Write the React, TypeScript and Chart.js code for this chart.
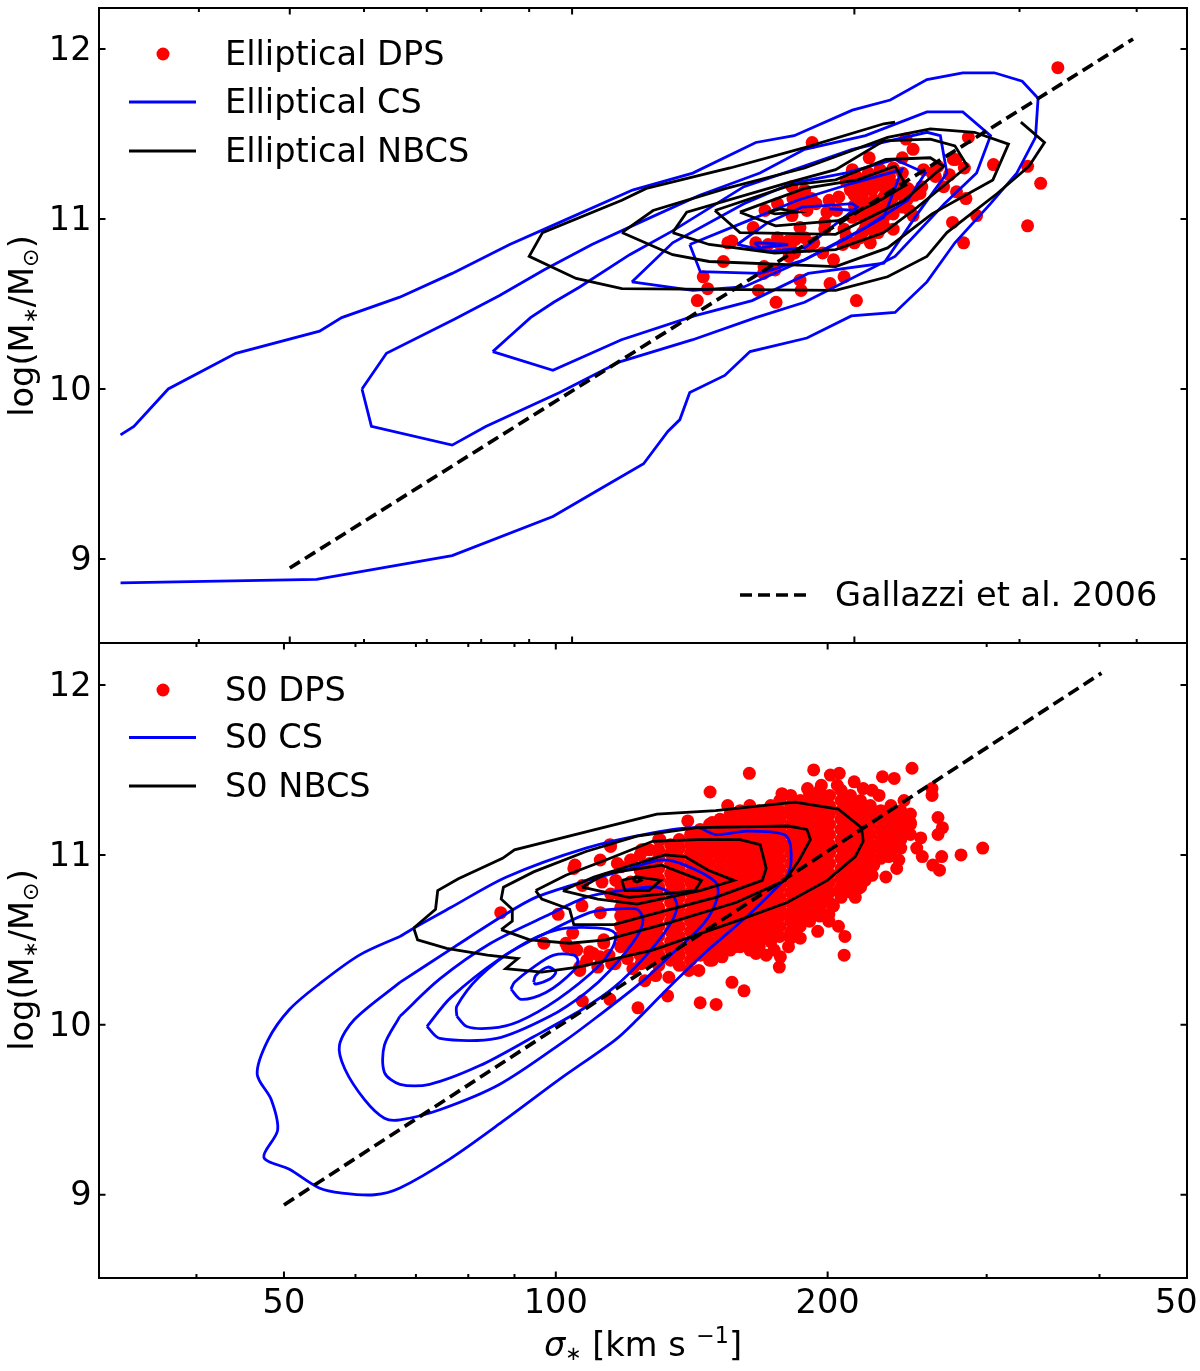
import React, { useEffect, useRef } from "react";
import { Chart, registerables } from "chart.js";

Chart.register(...registerables);

type P = [number, number];

// ---------- shared axis values ----------
const xMajorTicks = [50, 100, 200, 500];
const xMinorTicks = [40, 60, 70, 80, 90, 300, 400];
const yTicks = [9, 10, 11, 12];

const galTopLine: P[] = [[50, 8.947], [396.5, 12.059]];
const galBottomLine: P[] = [[50, 8.94], [402, 12.07]];

// ---------- top panel: Elliptical ----------
const ellipticalDps: P[] = [
  [329.6, 11.89], [180.3, 11.45], [227, 11.47], [264.6, 11.48], [231, 11.41], [207.4, 11.36], [225, 11.36], [256.6, 11.35],
  [262, 11.30], [281.4, 11.32], [306, 11.31], [316, 11.21], [306, 10.96], [261.5, 10.86], [270, 11.02], [254.5, 10.98],
  [263, 11.12], [257, 11.16], [249, 11.19], [252.6, 11.26], [244, 11.25], [237, 11.29], [231, 11.02], [229, 11.05],
  [220, 10.94], [212.6, 11.0], [194.4, 10.85], [203, 10.89], [190, 10.76], [185, 10.8], [195, 10.66], [188.4, 10.62],
  [201, 10.52], [175, 10.64], [175.5, 10.58], [165, 10.51], [158, 10.58], [164.6, 10.70], [160.2, 10.72], [160, 10.68],
  [145, 10.75], [138, 10.66], [139.5, 10.59], [136, 10.52], [146.6, 10.86], [148, 10.87], [170.4, 10.78], [172.7, 10.80],
  [157, 10.86], [156, 10.95], [160.6, 11.05], [165.6, 11.09], [171.6, 11.02], [171.6, 11.19], [177, 11.17], [165.6, 10.89],
  [170, 10.87], [161.8, 10.85], [171, 10.85], [175, 10.95], [177, 10.89], [181, 10.86], [186, 10.94], [186, 10.98],
  [188, 11.11], [192.5, 11.13], [175, 11.11], [177, 11.07], [187, 11.04], [191.5, 11.05], [195, 10.94], [205.5, 10.95],
  [207, 11.01], [204, 10.92], [198, 11.17], [201, 11.25], [207, 11.27], [213, 11.29], [218, 11.25], [215, 11.19],
  [209, 11.17], [204, 11.13], [210, 11.11], [218, 11.13], [230, 11.16], [235, 11.15], [205.5, 11.05], [213, 11.06],
  [225, 11.07], [199, 11.01], [199, 11.29], [245.5, 11.31], [255, 11.35], [242, 11.27], [214, 11.22], [222, 11.20],
  [203, 11.19], [196, 11.22], [211, 11.24], [218, 11.09],
  [200, 11.20], [200, 11.14], [200, 11.08], [200, 11.02], [205, 11.23], [205, 11.17], [205, 11.08], [205, 11.00],
  [210, 11.25], [210, 11.19], [210, 11.05], [210, 10.98], [210, 10.92], [215, 11.27], [215, 11.13], [215, 11.01],
  [215, 10.96], [220, 11.30], [220, 11.19], [220, 11.13], [220, 11.03], [225, 11.27], [225, 11.20], [225, 11.14],
  [172, 11.12], [176, 11.14], [180, 11.12], [182, 11.09], [178, 11.05], [172, 11.06], [166, 10.86], [173, 10.88],
  [179, 10.84], [170, 10.82], [196, 10.90], [200, 10.86], [208, 10.86], [212, 10.92], [228, 11.18], [232, 11.14],
  [236, 11.19], [228, 11.12],
];

const ellipticalCs1: P[] = [
  [33.0, 9.73], [34.1, 9.78], [37.1, 10.0], [43.8, 10.21], [53.8, 10.34], [56.8, 10.42], [65.5, 10.54], [74.5, 10.68],
  [85.8, 10.85], [97, 10.98], [116, 11.17], [134.5, 11.27], [157, 11.45], [172.5, 11.49], [199, 11.64], [218.4, 11.70],
  [239, 11.82], [261, 11.86], [282, 11.86], [302, 11.81], [314, 11.71], [312, 11.48], [298, 11.27], [279.4, 11.09],
  [256, 10.86], [239, 10.63], [221, 10.45], [198.5, 10.43], [178, 10.30], [154.8, 10.22], [145.5, 10.08], [133.5, 9.98],
  [130.3, 9.82], [126.5, 9.75], [119.2, 9.56], [107, 9.41], [95.4, 9.25], [74.5, 9.02], [53.4, 8.88], [33, 8.86],
];
const ellipticalCs2: P[] = [
  [59.7, 10.0], [63.4, 10.21], [74.9, 10.41], [83.7, 10.55], [93.3, 10.70], [105, 10.85], [118.1, 10.98], [136.8, 11.14],
  [158.6, 11.27], [177, 11.41], [205.5, 11.49], [239, 11.63], [261, 11.63], [279.4, 11.49], [270, 11.27], [249.5, 11.09],
  [221, 10.78], [177, 10.51], [157, 10.42], [134.5, 10.29], [112.4, 10.16], [97, 9.98], [80.9, 9.78], [74.5, 9.67],
  [61.1, 9.78], [59.7, 10.0],
];
const ellipticalCs3: P[] = [
  [82.3, 10.22], [85.4, 10.30], [90.3, 10.42], [95.6, 10.51], [101.9, 10.60], [115.2, 10.79], [128, 10.93], [152.5, 11.19],
  [172.5, 11.29], [199, 11.41], [239, 11.51], [247, 11.49], [251, 11.27], [233.5, 11.03], [215, 10.74], [178.6, 10.68],
  [155.6, 10.52], [135, 10.43], [112.9, 10.29], [95.4, 10.11], [82.3, 10.22],
];
const ellipticalCs4: P[] = [
  [115.8, 10.63], [128, 10.86], [152.5, 11.09], [171.5, 11.21], [195.5, 11.27], [221, 11.35], [238, 11.27], [228, 11.11],
  [205.5, 10.95], [177, 10.76], [152.5, 10.60], [134.5, 10.58], [115.8, 10.63],
];
const ellipticalCs5: P[] = [
  [133.5, 10.85], [137, 10.69], [158.6, 10.68], [177, 10.76], [195.5, 10.88], [215, 11.01], [224.8, 11.29], [199, 11.21],
  [174, 11.11], [152.5, 10.98], [133.5, 10.85],
];
const ellipticalCs6: P[] = [
  [150, 10.85], [161.8, 10.81], [177, 10.83], [188, 10.94], [201.5, 11.07], [199, 11.09], [176, 11.07], [161.8, 10.98], [150, 10.85],
];
const ellipticalCs7: P[] = [[156.5, 10.86], [158.6, 10.83], [170, 10.85], [158.6, 10.86], [156.5, 10.86]];
const ellipticalCs8: P[] = [[188, 11.06], [201.5, 11.05]];

const ellipticalNbcs1: P[] = [
  [221, 11.57], [215, 11.56], [177, 11.42], [147.4, 11.30], [120, 11.18], [113, 11.11], [93, 10.92], [90, 10.78],
  [101, 10.65], [113, 10.59], [191, 10.58], [217, 10.66], [239, 10.78], [251, 10.92], [284, 11.15], [307, 11.31],
  [319, 11.45], [301, 11.57],
];
const ellipticalNbcs2: P[] = [
  [113, 10.92], [122, 11.05], [146, 11.18], [177, 11.30], [217, 11.48], [241, 11.53], [268.6, 11.51], [292, 11.44],
  [281, 11.23], [242, 11.03], [217, 10.83], [191, 10.72], [140, 10.75], [128, 10.79], [113, 10.92],
];
const ellipticalNbcs3: P[] = [
  [128, 10.92], [132.5, 11.04], [171.5, 11.22], [191, 11.29], [215, 11.46], [241, 11.47], [256, 11.43], [264, 11.31],
  [233.5, 11.07], [215, 10.92], [191, 10.82], [164.5, 10.80], [140, 10.85], [128, 10.92],
];
const ellipticalNbcs4: P[] = [
  [142, 11.05], [171.5, 11.20], [191, 11.23], [216, 11.35], [241, 11.36], [249, 11.31], [226, 11.11], [191, 10.91], [151, 10.92], [142, 11.05],
];
const ellipticalNbcs5: P[] = [
  [151, 11.04], [177, 11.18], [201.5, 11.23], [221, 11.31], [227, 11.20], [210, 11.09], [192, 10.99], [164.8, 10.96], [151, 11.04],
];
const ellipticalNbcs6: P[] = [[162, 11.04], [166.6, 11.06], [173.7, 11.04], [164.6, 11.03], [162, 11.04]];

// ---------- bottom panel: S0 ----------
const s0DpsOuter: P[] = [
  [163.8, 11.48], [148.2, 11.37], [193, 11.50], [248, 11.51], [206, 11.48], [201.4, 11.47], [196.8, 11.41], [214, 11.43],
  [230, 11.46], [237, 11.45], [224, 11.38], [261, 11.39], [261, 11.35], [265, 11.22], [268, 11.16], [265, 11.12],
  [253.6, 11.10], [245.5, 11.13], [251, 11.04], [254.6, 10.99], [267.5, 10.99], [261.5, 10.94], [266, 10.91], [281, 11.0],
  [297, 11.04], [233.6, 10.99], [239.8, 10.97], [238.5, 10.92], [232, 10.87], [225, 10.94], [220, 10.85], [214.6, 10.75],
  [206, 10.79], [200.6, 10.65], [200.6, 10.61], [205.6, 10.58], [209, 10.52], [208.6, 10.41], [190.4, 10.62], [186.5, 10.51],
  [183.3, 10.54], [182, 10.51], [176.8, 10.34], [177.3, 10.40], [174.5, 10.44], [171, 10.41], [166.6, 10.42], [165.6, 10.46],
  [158, 10.46], [171.7, 10.51], [152.8, 10.40], [149, 10.38], [144, 10.32], [140.4, 10.32], [133.4, 10.28], [129, 10.29],
  [125.5, 10.26], [156.7, 10.25], [161.6, 10.20], [144.5, 10.13], [150.5, 10.12], [133, 10.17], [123.3, 10.10], [114.8, 10.15],
  [107, 10.14], [86.9, 10.66], [100.6, 10.65], [112, 10.66], [106.9, 10.70], [104.7, 10.92], [112, 10.97], [115, 11.05],
  [130, 11.09], [124.5, 11.03], [117, 10.95], [112.5, 10.84], [107, 10.82], [121, 10.97], [120.5, 10.83], [97, 10.48],
  [104.4, 10.54], [102.6, 10.48], [105, 10.45], [106.3, 10.32], [111.3, 10.34], [109, 10.43], [113, 10.50], [114.5, 10.41],
  [116.3, 10.36], [120, 10.39], [121.7, 10.33], [124.3, 10.36], [241, 11.23], [247, 11.19], [237, 11.13], [230, 11.10],
  [181, 10.46], [195, 10.55], [203, 10.70], [216, 10.80], [224, 10.88], [236, 11.05], [243, 11.32], [228, 11.35],
  [219, 11.39], [205, 11.41], [190, 11.39], [178, 11.36], [155, 11.29], [140, 11.20],
  [110, 10.42], [113, 10.48], [115.3, 10.36], [106.3, 10.34], [103, 10.46], [105.5, 10.44], [108.2, 10.38], [111.9, 10.40],
  [114.8, 11.06], [105, 10.94], [130.4, 11.09], [125, 11.03], [121.4, 10.97], [127, 11.03], [149, 11.19], [160, 11.21],
  [167, 11.25], [124, 11.0], [118, 10.93], [116.5, 10.85], [115, 10.77],
];
const s0CoreSigma = [118, 121, 124, 127, 130, 134, 137, 141, 144.5, 148, 152, 156, 160, 164, 168, 170.5, 173, 177, 182, 186.5, 191, 196, 201, 207, 212, 217.5, 223, 229, 235, 241, 247];
const s0CoreMass: number[][] = [
  [10.46, 10.52, 10.58, 10.64, 10.69, 10.75, 10.80],
  [10.44, 10.49, 10.55, 10.61, 10.66, 10.72, 10.78, 10.84],
  [10.41, 10.46, 10.52, 10.58, 10.64, 10.69, 10.75, 10.81, 10.86, 10.91],
  [10.38, 10.44, 10.49, 10.55, 10.61, 10.66, 10.72, 10.78, 10.84, 10.89, 10.95],
  [10.35, 10.41, 10.46, 10.52, 10.58, 10.64, 10.69, 10.75, 10.81, 10.86, 10.92, 10.98, 11.03],
  [10.38, 10.44, 10.49, 10.55, 10.61, 10.66, 10.72, 10.78, 10.84, 10.89, 10.95, 11.01, 11.06],
  [10.35, 10.41, 10.46, 10.52, 10.58, 10.64, 10.69, 10.75, 10.81, 10.86, 10.92, 10.98, 11.04, 11.09],
  [10.38, 10.44, 10.49, 10.55, 10.61, 10.66, 10.72, 10.78, 10.84, 10.89, 10.95, 11.01, 11.06, 11.12],
  [10.41, 10.46, 10.52, 10.58, 10.64, 10.69, 10.75, 10.81, 10.86, 10.92, 10.98, 11.04, 11.09, 11.15],
  [10.38, 10.44, 10.49, 10.55, 10.61, 10.66, 10.72, 10.78, 10.84, 10.89, 10.95, 11.01, 11.06, 11.12, 11.18],
  [10.41, 10.46, 10.52, 10.58, 10.64, 10.69, 10.75, 10.81, 10.86, 10.92, 10.98, 11.04, 11.09, 11.15, 11.21],
  [10.44, 10.49, 10.55, 10.61, 10.66, 10.72, 10.78, 10.84, 10.89, 10.95, 11.01, 11.06, 11.12, 11.18, 11.24],
  [10.46, 10.52, 10.58, 10.64, 10.69, 10.75, 10.81, 10.86, 10.92, 10.98, 11.04, 11.09, 11.15, 11.21, 11.26],
  [10.44, 10.49, 10.55, 10.61, 10.66, 10.72, 10.78, 10.84, 10.89, 10.95, 11.01, 11.06, 11.12, 11.18, 11.24, 11.29],
  [10.46, 10.52, 10.58, 10.64, 10.69, 10.75, 10.81, 10.86, 10.92, 10.98, 11.04, 11.09, 11.15, 11.21, 11.26],
  [10.55, 10.61, 10.67, 10.73, 10.79, 10.84, 10.90, 10.96, 11.02, 11.08, 11.13, 11.19, 11.25],
  [10.49, 10.55, 10.61, 10.66, 10.72, 10.78, 10.84, 10.89, 10.95, 11.01, 11.06, 11.12, 11.18, 11.24, 11.29],
  [10.52, 10.58, 10.64, 10.69, 10.75, 10.81, 10.86, 10.92, 10.98, 11.04, 11.09, 11.15, 11.21, 11.26, 11.32],
  [10.55, 10.61, 10.66, 10.72, 10.78, 10.84, 10.89, 10.95, 11.01, 11.06, 11.12, 11.18, 11.24, 11.29, 11.35],
  [10.58, 10.64, 10.69, 10.75, 10.81, 10.86, 10.92, 10.98, 11.04, 11.09, 11.15, 11.21, 11.26, 11.32],
  [10.61, 10.66, 10.72, 10.78, 10.84, 10.89, 10.95, 11.01, 11.06, 11.12, 11.18, 11.24, 11.29, 11.35],
  [10.64, 10.69, 10.75, 10.81, 10.86, 10.92, 10.98, 11.04, 11.09, 11.15, 11.21, 11.26, 11.32, 11.38],
  [10.72, 10.78, 10.84, 10.89, 10.95, 11.01, 11.06, 11.12, 11.18, 11.24, 11.29, 11.35],
  [10.75, 10.81, 10.86, 10.92, 10.98, 11.04, 11.09, 11.15, 11.21, 11.26, 11.32, 11.38],
  [10.78, 10.84, 10.89, 10.95, 11.01, 11.06, 11.12, 11.18, 11.24, 11.29, 11.35],
  [10.81, 10.86, 10.92, 10.98, 11.04, 11.09, 11.15, 11.21, 11.26, 11.32],
  [10.89, 10.95, 11.01, 11.06, 11.12, 11.18, 11.24, 11.29],
  [10.98, 11.04, 11.09, 11.15, 11.21, 11.26],
  [11.01, 11.06, 11.12, 11.18, 11.24, 11.29],
  [11.04, 11.09, 11.15, 11.21, 11.26],
  [11.12, 11.18, 11.24],
];

const s0Cs1: P[] = [
  [67.2, 10.52], [70.2, 10.58], [76.5, 10.69], [88.2, 10.87], [108, 11.04], [128, 11.13], [143.4, 11.16], [150.3, 11.12],
  [163, 11.14], [179, 11.12], [182, 11.05], [181, 10.89], [173.6, 10.78], [163, 10.64], [146, 10.42], [133.4, 10.22],
  [123, 10.03], [116.3, 9.91], [101, 9.68], [87.8, 9.44], [76.3, 9.21], [67.2, 9.04], [63, 9.0], [58, 9.01],
  [54.7, 9.04], [50.7, 9.15], [47.5, 9.22], [49.2, 9.38], [48.4, 9.56], [46.7, 9.71], [48, 9.91], [50.7, 10.09],
  [54.7, 10.24], [60.6, 10.41], [67.2, 10.52],
];
const s0Cs2: P[] = [
  [67.2, 10.25], [77.3, 10.46], [87.3, 10.64], [95, 10.75], [106.9, 10.84], [119.3, 10.91], [130.7, 10.97], [139, 10.94],
  [150.3, 10.84], [151, 10.75], [146, 10.60], [133.4, 10.40], [124.3, 10.25], [111.3, 10.05], [102.6, 9.91], [86.7, 9.65],
  [74.4, 9.50], [67.2, 9.44], [64.6, 9.45], [61.4, 9.56], [58.4, 9.74], [57.6, 9.88], [59.8, 10.03], [67.2, 10.25],
];
const s0Cs3: P[] = [
  [67.2, 10.05], [74.4, 10.27], [84.7, 10.48], [97.5, 10.64], [108, 10.75], [118, 10.79], [129.4, 10.81], [134.8, 10.76],
  [136.2, 10.69], [133.4, 10.58], [125.5, 10.40], [116, 10.22], [106.9, 10.09], [94.5, 9.93], [82.4, 9.76], [72.5, 9.65],
  [67.2, 9.65], [64.6, 9.72], [64.6, 9.88], [67.2, 10.05],
];
const s0Cs4: P[] = [
  [72, 9.99], [76.5, 10.16], [87.3, 10.40], [97.5, 10.54], [109, 10.66], [116, 10.68], [123, 10.68], [124.9, 10.62],
  [123, 10.52], [114.8, 10.32], [108, 10.19], [98.5, 10.05], [86, 9.92], [74.4, 9.92], [72, 9.99],
];
const s0Cs5: P[] = [
  [77.7, 10.05], [79.7, 9.99], [84.7, 9.98], [91, 10.02], [100.5, 10.15], [111.3, 10.34], [115.7, 10.46], [116.3, 10.54],
  [111, 10.57], [100.5, 10.56], [91, 10.46], [82.2, 10.28], [77.7, 10.11], [77.7, 10.05],
];
const s0Cs6: P[] = [
  [89.2, 10.21], [91.5, 10.15], [97.5, 10.19], [104.7, 10.32], [105.8, 10.38], [104.7, 10.41], [99.5, 10.41], [94.5, 10.34], [90, 10.25], [89.2, 10.21],
];
const s0Cs7: P[] = [[94.5, 10.25], [95, 10.24], [98.5, 10.27], [100, 10.31], [98, 10.34], [95, 10.29], [94.5, 10.25]];

const s0Nbcs1: P[] = [
  [69.6, 10.57], [73.6, 10.68], [74, 10.79], [78, 10.86], [87.3, 10.98], [90, 11.03], [106.9, 11.13], [129.4, 11.24],
  [150.3, 11.26], [184, 11.31], [205.5, 11.27], [218, 11.16], [219, 11.08], [214.6, 10.99], [199.8, 10.85], [180.4, 10.72],
  [158.4, 10.61], [128, 10.44], [105.8, 10.34], [96.5, 10.31], [88, 10.33], [90.8, 10.39], [84, 10.41], [75.7, 10.45],
  [70.3, 10.50], [69.6, 10.57],
];
const s0Nbcs2: P[] = [
  [87, 10.56], [89.5, 10.61], [89.5, 10.68], [87, 10.74], [87.5, 10.81], [94.5, 10.90], [108, 11.02], [123, 11.11],
  [143.4, 11.16], [180.8, 11.17], [189.7, 11.15], [191.4, 11.09], [186, 10.97], [179.5, 10.85], [158.4, 10.72], [133.4, 10.60],
  [113.6, 10.50], [103.6, 10.48], [93.6, 10.50], [87, 10.56],
];
const s0Nbcs3: P[] = [
  [95, 10.79], [102.6, 10.88], [113.6, 10.97], [128, 11.08], [143.4, 11.09], [160, 11.09], [168.4, 11.06], [171, 10.92],
  [169.3, 10.85], [150.3, 10.75], [125.5, 10.64], [116, 10.59], [104.7, 10.59], [103.6, 10.68], [96.5, 10.74], [95, 10.79],
];
const s0Nbcs4: P[] = [
  [101.8, 10.79], [110.2, 10.87], [132, 11.0], [139, 10.99], [147.5, 10.91], [157.5, 10.85], [144.5, 10.79], [123, 10.71], [111.3, 10.74], [101.8, 10.79],
];
const s0Nbcs5: P[] = [[106.9, 10.81], [113.6, 10.89], [131, 10.94], [145, 10.85], [142.6, 10.79], [120.5, 10.75], [106.9, 10.81]];
const s0Nbcs6: P[] = [[118.3, 10.85], [123, 10.87], [130.7, 10.85], [126.8, 10.79], [119.3, 10.79], [118.3, 10.85]];
const s0Nbcs7: P[] = [[121.7, 10.85], [123, 10.84], [124.3, 10.85], [123, 10.87], [121.7, 10.85]];

const topLegend = ["Elliptical DPS", "Elliptical CS", "Elliptical NBCS"];
const bottomLegend = ["S0 DPS", "S0 CS", "S0 NBCS"];
const gallazziLabel = "Gallazzi et al. 2006";

// ---------- style ----------
const FONT = '"DejaVu Sans"';
const FS = 33.6;
const DOT = 6.5;
const RED = "#ff0000";
const BLUE = "#0000ff";
const BLACK = "#000000";

type Seg = { t: string; scale?: number; dy?: number; italic?: boolean };
const yTitle: Seg[] = [
  { t: "log(M" }, { t: "\u2217", scale: 0.58, dy: 0.12 }, { t: "/M" }, { t: "\u2299", scale: 0.66, dy: 0.15 }, { t: ")" },
];
const xTitle: Seg[] = [
  { t: "\u03c3", italic: true }, { t: "\u2217", scale: 0.58, dy: 0.12 }, { t: " [km s " }, { t: "\u22121", scale: 0.66, dy: -0.4 }, { t: "]" },
];

function richFont(s: Seg) {
  return `${s.italic ? "italic " : ""}${FS * (s.scale ?? 1)}px ${FONT}`;
}
function drawRich(ctx: CanvasRenderingContext2D, segs: Seg[], cx: number, cy: number, rot: number) {
  ctx.save();
  ctx.translate(cx, cy);
  ctx.rotate(rot);
  ctx.textAlign = "left";
  ctx.textBaseline = "alphabetic";
  ctx.fillStyle = BLACK;
  let w = 0;
  for (const s of segs) {
    ctx.font = richFont(s);
    w += ctx.measureText(s.t).width;
  }
  let x = -w / 2;
  for (const s of segs) {
    ctx.font = richFont(s);
    ctx.fillText(s.t, x, (s.dy ?? 0) * FS);
    x += ctx.measureText(s.t).width;
  }
  ctx.restore();
}

function line(data: P[], color: string, width = 2.8, tension = 0) {
  return {
    type: "scatter" as const,
    data: data.map(([x, y]) => ({ x, y })),
    showLine: true,
    tension,
    pointRadius: 0,
    borderColor: color,
    backgroundColor: color,
    borderWidth: width,
    order: color === BLUE ? 3 : 2,
  };
}
function dots(data: P[]) {
  return {
    type: "scatter" as const,
    data: data.map(([x, y]) => ({ x, y })),
    showLine: false,
    pointRadius: DOT,
    pointHoverRadius: DOT,
    borderWidth: 0,
    backgroundColor: RED,
    order: 4,
  };
}
function dashed(data: P[]) {
  return { ...line(data, BLACK, 3.7), borderDash: [12, 6], order: 1 };
}

type Panel = {
  height: number;
  padTop: number;
  xHeight: number;
  xMax: number;
  xMin: number;
  yMin: number;
  yMax: number;
  showX: boolean;
  legend: string[];
  legendY: number[];
  gallazzi: boolean;
  yTitleY: number;
  xTitleAt?: [number, number];
  datasets: any[];
};

function panelPlugin(p: Panel) {
  return {
    id: "panelDecor",
    afterDraw(chart: any) {
      const { ctx, chartArea: a, scales } = chart;
      ctx.save();
      ctx.strokeStyle = BLACK;
      ctx.lineWidth = 2;
      ctx.strokeRect(a.left, a.top, a.right - a.left, a.bottom - a.top);
      ctx.beginPath();
      for (const t of scales.x.ticks) {
        const px = scales.x.getPixelForValue(t.value);
        const len = t.major ? 6.5 : 4;
        ctx.moveTo(px, a.bottom);
        ctx.lineTo(px, a.bottom - len);
        ctx.moveTo(px, a.top);
        ctx.lineTo(px, a.top + len);
      }
      for (const t of scales.y.ticks) {
        const py = scales.y.getPixelForValue(t.value);
        ctx.moveTo(a.left, py);
        ctx.lineTo(a.left + 6.5, py);
        ctx.moveTo(a.right, py);
        ctx.lineTo(a.right - 6.5, py);
      }
      ctx.stroke();

      // legend
      ctx.font = `${FS}px ${FONT}`;
      ctx.textAlign = "left";
      ctx.textBaseline = "middle";
      ctx.fillStyle = BLACK;
      p.legend.forEach((label, i) => {
        const y = p.legendY[i];
        if (i === 0) {
          ctx.fillStyle = RED;
          ctx.beginPath();
          ctx.arc(163, y, DOT, 0, Math.PI * 2);
          ctx.fill();
          ctx.fillStyle = BLACK;
        } else {
          ctx.strokeStyle = i === 1 ? BLUE : BLACK;
          ctx.lineWidth = 2.8;
          ctx.beginPath();
          ctx.moveTo(129, y);
          ctx.lineTo(196, y);
          ctx.stroke();
        }
        ctx.fillText(label, 225, y + 2);
      });
      if (p.gallazzi) {
        ctx.strokeStyle = BLACK;
        ctx.lineWidth = 3.7;
        ctx.setLineDash([12, 6]);
        ctx.beginPath();
        ctx.moveTo(740, 595);
        ctx.lineTo(806, 595);
        ctx.stroke();
        ctx.setLineDash([]);
        ctx.fillText(gallazziLabel, 835, 597);
      }
      ctx.restore();

      drawRich(ctx, yTitle, 33, p.yTitleY, -Math.PI / 2);
      if (p.xTitleAt) drawRich(ctx, xTitle, p.xTitleAt[0], p.xTitleAt[1], 0);
    },
  };
}

function makeChart(canvas: HTMLCanvasElement, p: Panel) {
  return new Chart(canvas, {
    type: "scatter",
    data: { datasets: p.datasets },
    plugins: [panelPlugin(p)],
    options: {
      animation: false,
      responsive: false,
      devicePixelRatio: 1,
      layout: { padding: { top: p.padTop, right: 13, bottom: 0, left: 0 } },
      plugins: { legend: { display: false }, tooltip: { enabled: false }, title: { display: false } },
      scales: {
        x: {
          type: "logarithmic",
          min: p.xMin,
          max: p.xMax,
          grid: { display: false, drawTicks: false },
          border: { display: false },
          ticks: {
            display: p.showX,
            autoSkip: false,
            maxRotation: 0,
            minRotation: 0,
            padding: 6,
            color: BLACK,
            font: { family: "DejaVu Sans", size: FS },
            callback: (v: any) => (xMajorTicks.includes(Number(v)) ? String(v) : ""),
          },
          afterBuildTicks: (s: any) => {
            s.ticks = [...xMajorTicks.map((value) => ({ value, major: true })), ...xMinorTicks.map((value) => ({ value, major: false }))].sort(
              (a, b) => a.value - b.value,
            );
          },
          afterFit: (s: any) => {
            s.height = p.xHeight;
            s.paddingLeft = s.paddingRight = s.paddingTop = s.paddingBottom = 0;
          },
        },
        y: {
          type: "linear",
          min: p.yMin,
          max: p.yMax,
          grid: { display: false, drawTicks: false },
          border: { display: false },
          ticks: {
            padding: 7.5,
            labelOffset: 2,
            color: BLACK,
            font: { family: "DejaVu Sans", size: FS },
            callback: (v: any) => String(v),
          },
          afterBuildTicks: (s: any) => {
            s.ticks = yTicks.map((value) => ({ value }));
          },
          afterFit: (s: any) => {
            s.width = 99;
            s.paddingLeft = s.paddingRight = s.paddingTop = s.paddingBottom = 0;
          },
        },
      },
    } as any,
  } as any);
}

const s0Dps: P[] = [...s0DpsOuter, ...s0CoreSigma.flatMap((s, i) => s0CoreMass[i].map((m): P => [s, m]))];

const topPanel: Panel = {
  height: 656,
  padTop: 8,
  xHeight: 13,
  xMin: 31.3,
  xMax: 452.6,
  yMin: 8.506,
  yMax: 12.241,
  showX: false,
  legend: topLegend,
  legendY: [54, 102, 151],
  gallazzi: true,
  yTitleY: 326,
  datasets: [
    dots(ellipticalDps),
    ...[ellipticalCs1, ellipticalCs2, ellipticalCs3, ellipticalCs4, ellipticalCs5, ellipticalCs6, ellipticalCs7, ellipticalCs8].map((d) => line(d, BLUE)),
    ...[ellipticalNbcs1, ellipticalNbcs2, ellipticalNbcs3, ellipticalNbcs4, ellipticalNbcs5, ellipticalNbcs6].map((d) => line(d, BLACK)),
    dashed(galTopLine),
  ],
};

// bottom canvas starts at y = 635 on the page
const bottomPanel: Panel = {
  height: 736,
  padTop: 8,
  xHeight: 93,
  xMin: 31.2,
  xMax: 500,
  yMin: 8.51,
  yMax: 12.247,
  showX: true,
  legend: bottomLegend,
  legendY: [55, 102.5, 151],
  gallazzi: false,
  yTitleY: 325,
  xTitleAt: [643, 721],
  datasets: [
    dots(s0Dps),
    ...[s0Cs1, s0Cs2, s0Cs3, s0Cs4, s0Cs5, s0Cs6, s0Cs7].map((d) => line(d, BLUE, 2.8, 0.3)),
    ...[s0Nbcs1, s0Nbcs2, s0Nbcs3, s0Nbcs4, s0Nbcs5, s0Nbcs6, s0Nbcs7].map((d) => line(d, BLACK)),
    dashed(galBottomLine),
  ],
};

export default function App() {
  const topRef = useRef<HTMLCanvasElement>(null);
  const botRef = useRef<HTMLCanvasElement>(null);
  useEffect(() => {
    document.body.style.margin = "0";
    const a = makeChart(topRef.current!, topPanel);
    const b = makeChart(botRef.current!, bottomPanel);
    return () => {
      a.destroy();
      b.destroy();
    };
  }, []);
  return (
    <div style={{ position: "relative", width: 1200, height: 1371, overflow: "hidden", background: "#fff" }}>
      <canvas ref={topRef} width={1200} height={656} style={{ position: "absolute", left: 0, top: 0 }} />
      <canvas ref={botRef} width={1200} height={736} style={{ position: "absolute", left: 0, top: 635 }} />
    </div>
  );
}
